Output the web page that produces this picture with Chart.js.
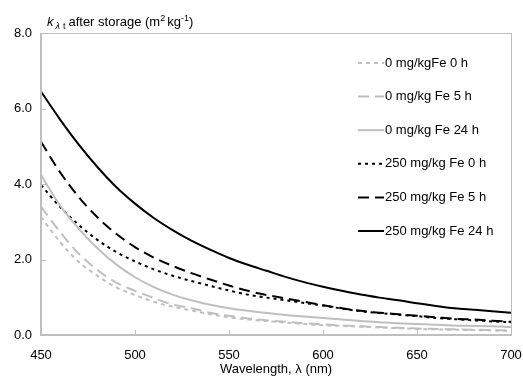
<!DOCTYPE html>
<html lang="en">
<head>
    <meta charset="UTF-8">
    <title>k after storage vs wavelength</title>
    <style>
        * { margin: 0; padding: 0; box-sizing: border-box; }
        body { background: #fff; font-family: 'Liberation Sans', Arial, sans-serif; }
        .chart-box { width: 523px; height: 376px; position: relative; }
    </style>
    <script src="https://cdn.jsdelivr.net/npm/chart.js"></script>
</head>
<body>
    <div class="chart-box"><canvas id="k-chart"></canvas></div>

    <script>
        // wavelength steps (nm) and k values
        const wavelengths = [450, 460, 470, 480, 490, 500, 510, 520, 530, 540, 550, 560, 570, 580, 590, 600, 610, 620, 630, 640, 650, 660, 670, 680, 690, 700];

        const fe0_0h  = [3.13, 2.47, 1.94, 1.57, 1.26, 1.06, 0.88, 0.75, 0.65, 0.55, 0.47, 0.41, 0.37, 0.33, 0.29, 0.26, 0.24, 0.22, 0.20, 0.18, 0.16, 0.15, 0.14, 0.13, 0.12, 0.11];
        const fe0_5h  = [3.40, 2.74, 2.16, 1.72, 1.39, 1.17, 0.98, 0.81, 0.71, 0.59, 0.51, 0.44, 0.39, 0.35, 0.31, 0.28, 0.25, 0.23, 0.21, 0.19, 0.17, 0.16, 0.15, 0.14, 0.13, 0.12];
        const fe0_24h = [4.24, 3.44, 2.82, 2.30, 1.87, 1.53, 1.27, 1.07, 0.92, 0.80, 0.71, 0.64, 0.58, 0.53, 0.49, 0.45, 0.41, 0.37, 0.34, 0.31, 0.29, 0.27, 0.25, 0.24, 0.23, 0.21];
        const fe250_0h  = [3.97, 3.40, 2.92, 2.52, 2.20, 1.95, 1.74, 1.57, 1.43, 1.30, 1.18, 1.07, 0.99, 0.92, 0.85, 0.78, 0.70, 0.63, 0.58, 0.54, 0.50, 0.45, 0.42, 0.39, 0.36, 0.34];
        const fe250_5h  = [5.12, 4.32, 3.66, 3.12, 2.68, 2.33, 2.05, 1.83, 1.64, 1.47, 1.31, 1.17, 1.06, 0.97, 0.88, 0.79, 0.71, 0.64, 0.59, 0.55, 0.51, 0.47, 0.43, 0.41, 0.38, 0.35];
        const fe250_24h = [6.45, 5.72, 5.05, 4.45, 3.92, 3.48, 3.10, 2.78, 2.50, 2.26, 2.04, 1.86, 1.70, 1.54, 1.40, 1.28, 1.17, 1.07, 0.99, 0.92, 0.84, 0.77, 0.71, 0.67, 0.63, 0.59];

        const seriesLabels = ['0 mg/kgFe 0 h', '0 mg/kg Fe 5 h', '0 mg/kg Fe 24 h', '250 mg/kg Fe 0 h', '250 mg/kg Fe 5 h', '250 mg/kg Fe 24 h'];
        const xTicks = [450, 500, 550, 600, 650, 700];
        const yTicks = [0, 2, 4, 6, 8];

        const GRAY = '#bfbfbf';
        const AXIS = '#bfbfbf';
        const FONT = "'Liberation Sans', Arial, sans-serif";

        const styles = [
            { color: GRAY, dash: [4, 4] },
            { color: GRAY, dash: [11, 6] },
            { color: GRAY, dash: [] },
            { color: '#000', dash: [3, 4] },
            { color: '#000', dash: [11, 6] },
            { color: '#000', dash: [] }
        ];

        const allSeries = [fe0_0h, fe0_5h, fe0_24h, fe250_0h, fe250_5h, fe250_24h];

        const datasets = allSeries.map((vals, i) => ({
            label: seriesLabels[i],
            data: vals.map((v, j) => ({ x: wavelengths[j], y: v })),
            borderColor: styles[i].color,
            borderDash: styles[i].dash,
            borderWidth: 2,
            pointRadius: 0,
            fill: false,
            cubicInterpolationMode: 'monotone'
        }));

        // box, inward tick marks, y title and the legend inside the plot
        const decor = {
            id: 'decor',
            afterDraw(chart) {
                const c = chart.ctx;
                const a = chart.chartArea;
                const xs = chart.scales.x, ys = chart.scales.y;
                c.save();
                c.strokeStyle = AXIS;
                c.lineWidth = 1;
                c.strokeRect(a.left + 0.5, a.top + 0.5, a.right - a.left, a.bottom - a.top);
                c.lineWidth = 2;
                c.beginPath();
                c.moveTo(a.left, a.top); c.lineTo(a.left, a.bottom); c.lineTo(a.right, a.bottom);
                c.stroke();
                c.lineWidth = 1;
                c.beginPath();
                xTicks.forEach(t => {
                    const px = Math.round(xs.getPixelForValue(t)) + 0.5;
                    c.moveTo(px, a.bottom); c.lineTo(px, a.bottom - 5);
                });
                yTicks.forEach(t => {
                    const py = Math.round(ys.getPixelForValue(t)) + 0.5;
                    c.moveTo(a.left, py); c.lineTo(a.left + 5, py);
                });
                c.stroke();

                // y title: k(λ t) after storage (m2 kg-1)
                c.fillStyle = '#000';
                c.textBaseline = 'alphabetic';
                let x = 47, y = 26;
                c.font = 'italic 13px ' + FONT;
                c.fillText('k', x, y); x += c.measureText('k').width + 2;
                c.font = 'italic 9px ' + FONT;
                c.fillText('λ', x, y + 3); x += c.measureText('λ').width + 3;
                c.font = '9px ' + FONT;
                c.fillText('t', x, y + 3); x += c.measureText('t').width + 3;
                c.font = '13px ' + FONT;
                c.fillText('after storage (m', x, y); x += c.measureText('after storage (m').width;
                c.font = '9px ' + FONT;
                c.fillText('2', x, y - 5); x += c.measureText('2').width + 2;
                c.font = '13px ' + FONT;
                c.fillText('kg', x, y); x += c.measureText('kg').width;
                c.font = '9px ' + FONT;
                c.fillText('-1', x, y - 5); x += c.measureText('-1').width;
                c.font = '13px ' + FONT;
                c.fillText(')', x, y);

                // legend
                c.textBaseline = 'middle';
                c.font = '13px ' + FONT;
                chart.data.datasets.forEach((ds, i) => {
                    const ly = 63 + i * 33.6;
                    c.strokeStyle = ds.borderColor;
                    c.lineWidth = 2;
                    c.setLineDash(ds.borderDash);
                    c.beginPath();
                    c.moveTo(358, ly); c.lineTo(384, ly);
                    c.stroke();
                    c.setLineDash([]);
                    c.fillStyle = '#000';
                    c.fillText(ds.label, 385, ly);
                });
                c.restore();
            }
        };

        new Chart(document.getElementById('k-chart'), {
            type: 'line',
            data: { datasets },
            options: {
                responsive: true,
                maintainAspectRatio: false,
                animation: false,
                layout: { padding: { top: 33, right: 12, left: 0, bottom: 0 } },
                plugins: { legend: { display: false }, tooltip: { enabled: false } },
                scales: {
                    x: {
                        type: 'linear',
                        min: 450, max: 700,
                        grid: { display: false, drawTicks: false },
                        border: { display: false },
                        afterFit: s => { s.height = 41; s.paddingLeft = 0; s.paddingRight = 0; },
                        afterBuildTicks: s => { s.ticks = xTicks.map(v => ({ value: v })); },
                        ticks: { padding: 13, color: '#000', font: { family: FONT, size: 13 }, maxRotation: 0 },
                        title: { display: true, text: 'Wavelength, λ (nm)', color: '#000', font: { family: FONT, size: 13 }, padding: { top: 0, bottom: -1 } }
                    },
                    y: {
                        min: 0, max: 8,
                        grid: { display: false, drawTicks: false },
                        border: { display: false },
                        afterFit: s => { s.width = 41; s.paddingTop = 0; s.paddingBottom = 0; },
                        afterBuildTicks: s => { s.ticks = yTicks.map(v => ({ value: v })); },
                        ticks: { padding: 9, color: '#000', font: { family: FONT, size: 13 }, callback: v => v.toFixed(1) }
                    }
                }
            },
            plugins: [decor]
        });
    </script>
</body>
</html>
